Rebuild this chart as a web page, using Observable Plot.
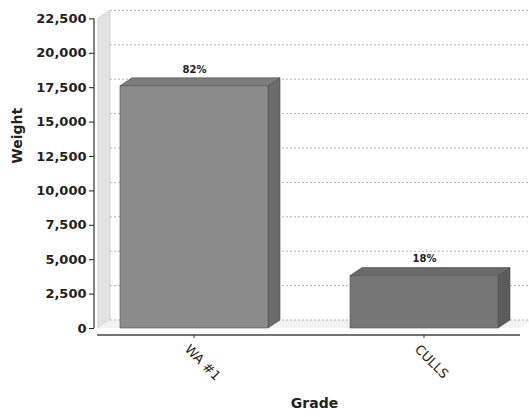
<!DOCTYPE html>
<html><head><meta charset="utf-8">
<script src="https://cdn.jsdelivr.net/npm/d3@7"></script>
<script src="https://cdn.jsdelivr.net/npm/@observablehq/plot@0.6"></script>
<style>body{margin:0;background:#fff} svg{display:block}</style>
</head><body><div id="chart"></div>
<script>
const categories = ["WA #1", "CULLS"];
const weights = [17600, 3810];
const yTicks = [0, 2500, 5000, 7500, 10000, 12500, 15000, 17500, 20000, 22500];
const xTitle = "Grade";
const yTitle = "Weight";

const total = d3.sum(weights);
const rows = categories.map((c, i) => ({grade: c, weight: weights[i], pct: Math.round(weights[i] / total * 100) + "%"}));

const DX = 12, DY = 8;
const frontFill = {"WA #1": "#8b8b8b", "CULLS": "#767676"};

function scene(index, scales, values, dims) {
  const x = scales.x, y = scales.y;
  const bw = typeof x.bandwidth === "function" ? x.bandwidth() : x.bandwidth;
  const {width, marginLeft: ml, marginRight: mr} = dims;
  const left = ml, right = width - mr;
  const y0 = y(0), yTop = y(yTicks[yTicks.length - 1]);
  const g = d3.create("svg:g");
  // left wall
  g.append("path")
    .attr("d", `M${left},${y0}L${left + DX},${y0 - DY}L${left + DX},${yTop - DY}L${left},${yTop}Z`)
    .attr("fill", "#e2e2e2").attr("stroke", "#d0d0d0");
  // floor
  g.append("path")
    .attr("d", `M${left},${y0}L${left + DX},${y0 - DY}L${right + DX},${y0 - DY}L${right},${y0}Z`)
    .attr("fill", "#f3f3f3");
  // back-wall gridlines
  for (const t of yTicks) {
    g.append("line")
      .attr("x1", left + DX).attr("x2", right + DX)
      .attr("y1", y(t) - DY).attr("y2", y(t) - DY)
      .attr("stroke", "#b4b4b4").attr("stroke-dasharray", "2,2");
  }
  // 3D bars
  for (const r of rows) {
    const x0 = x(r.grade), x1 = x0 + bw, yv = y(r.weight);
    const f = frontFill[r.grade];
    g.append("path")
      .attr("d", `M${x1},${yv}L${x1 + DX},${yv - DY}L${x1 + DX},${y0 - DY}L${x1},${y0}Z`)
      .attr("fill", d3.color(f).darker(0.7)).attr("stroke", "#4a4a4a").attr("stroke-width", 0.6);
    g.append("path")
      .attr("d", `M${x0},${yv}L${x0 + DX},${yv - DY}L${x1 + DX},${yv - DY}L${x1},${yv}Z`)
      .attr("fill", d3.color(f).darker(0.3)).attr("stroke", "#4a4a4a").attr("stroke-width", 0.6);
    g.append("rect")
      .attr("x", x0).attr("y", yv).attr("width", bw).attr("height", y0 - yv)
      .attr("fill", f).attr("stroke", "#555").attr("stroke-width", 0.6);
  }
  // y axis line
  g.append("line").attr("x1", left - 4).attr("x2", left - 4).attr("y1", yTop).attr("y2", y0)
    .attr("stroke", "#333").attr("stroke-width", 1.2);
  // x axis line
  g.append("line").attr("x1", left - 1).attr("x2", right).attr("y1", y0 + 7).attr("y2", y0 + 7)
    .attr("stroke", "#444").attr("stroke-width", 1.5);
  for (const c of categories) {
    const cx = x(c) + bw / 2;
    g.append("line").attr("x1", cx).attr("x2", cx).attr("y1", y0 + 7).attr("y2", y0 + 10)
      .attr("stroke", "#333");
  }
  return g.node();
}

const chart = Plot.plot({
  width: 529,
  height: 417,
  marginLeft: 98,
  marginRight: 9,
  marginTop: 18.4,
  marginBottom: 89,
  style: {fontFamily: "DejaVu Sans", background: "#fff", color: "#222"},
  x: {type: "band", domain: categories, paddingInner: 0.355, paddingOuter: 0.091, axis: null},
  y: {domain: [0, 22500]},
  marks: [
    scene,
    Plot.axisY({ticks: yTicks, tickSize: 5, tickPadding: 3, dx: -4, tickFormat: d3.format(","),
      fontSize: 13, fontWeight: "bold", label: null}),
    Plot.text(rows, {x: "grade", y: "weight", text: "pct", dy: -17, fontSize: 10, fontWeight: "bold"}),
    Plot.text(rows, {x: "grade", frameAnchor: "bottom", text: "grade", rotate: 45, textAnchor: "start",
      lineAnchor: "top", dx: -4, dy: 15, fontSize: 13, fontWeight: 500}),
    Plot.text([yTitle], {frameAnchor: "left", rotate: -90, dx: -81, dy: -10, fontSize: 14, fontWeight: "bold"}),
    Plot.text([xTitle], {frameAnchor: "bottom", dx: 5, dy: 79, fontSize: 14, fontWeight: "bold"})
  ]
});
document.getElementById("chart").appendChild(chart);
</script>
</body></html>
